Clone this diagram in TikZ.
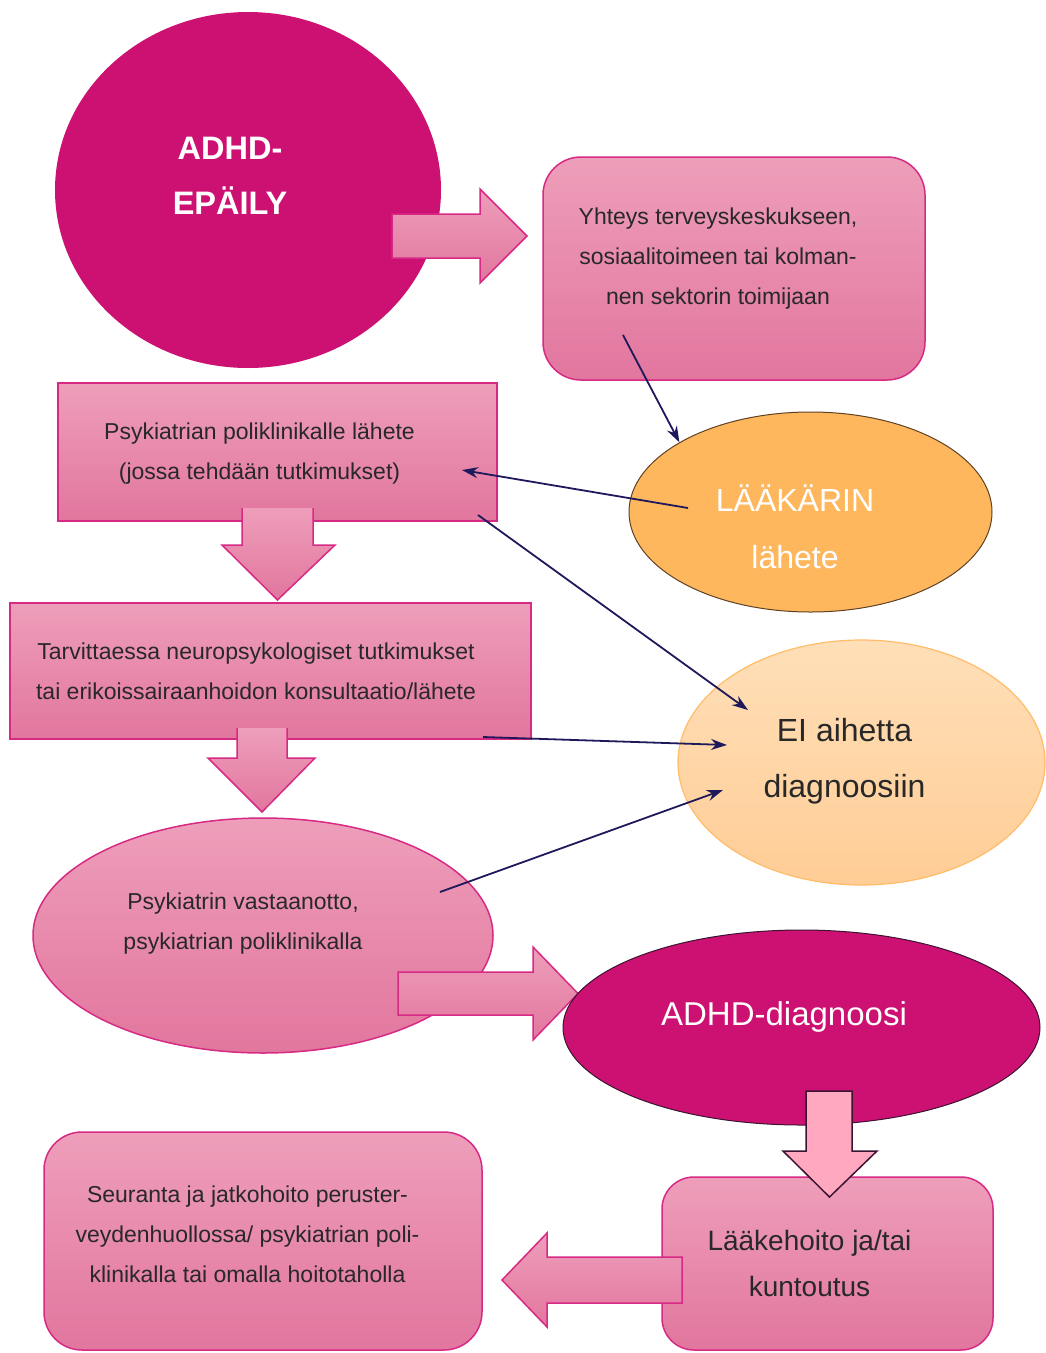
\documentclass[tikz,border=0pt]{standalone}
\usepackage{fontspec}
\setmainfont{Liberation Sans}
\usetikzlibrary{positioning,
        shapes.geometric,
        arrows.meta}
\usepackage{xcolor}

\definecolor{pinktop}{RGB}{238,158,186}
\definecolor{pinkbot}{RGB}{226,118,158}
\definecolor{pinkline}{RGB}{214,42,132}
\definecolor{adhdmag}{RGB}{205,17,114}
\definecolor{darkline}{RGB}{60,20,50}
\definecolor{orangefill}{RGB}{255,183,94}
\definecolor{brownline}{RGB}{95,65,35}
\definecolor{ltorangetop}{RGB}{255,223,184}
\definecolor{ltorangebot}{RGB}{255,205,150}
\definecolor{ltorangeline}{RGB}{255,188,105}
\definecolor{ltpink}{RGB}{255,168,192}
\definecolor{navy}{RGB}{30,25,90}
\definecolor{txtgray}{RGB}{40,40,40}

\begin{document}
\begin{tikzpicture}[x=1pt,y=-1pt,
        pinkbox/.style={rectangle,draw=pinkline,line width=1.5pt,top color=pinktop,bottom color=pinkbot,inner sep=0pt},
        roundbox/.style={pinkbox,rounded corners=38pt},
        oval/.style={ellipse,inner sep=0pt},
        small/.style={align=center,text=txtgray,font=\fontsize{23}{40}\selectfont},
        big/.style={align=center,font=\fontsize{32}{57}\selectfont},
        blockarrow/.style={draw=pinkline,line width=1.5pt,top color=pinktop,bottom color=pinkbot,line join=miter},
        link/.style={draw=navy,line width=1.8pt,-{Stealth[length=16pt,width=11pt]}}]
    \useasboundingbox (0,0) rectangle (1046,1353);

    \node [oval,fill=adhdmag,minimum width=386pt,minimum height=356pt,
        label={[big,text=white,font=\fontsize{32.5}{55}\selectfont\bfseries,xshift=-18pt,yshift=14pt]center:{ADHD-\\EPÄILY}}] (epaily) at (248,190) {};
    \path[blockarrow] (392,214) -- (480,214) -- (480,189) -- (527,236) -- (480,283) -- (480,258) -- (392,258) -- cycle;

    \node [roundbox,minimum width=382pt,minimum height=223pt,
        label={[small,xshift=-16pt,yshift=10pt]center:{Yhteys terveyskeskukseen,\\sosiaalitoimeen tai kolman-\\nen sektorin toimijaan}}] (yhteys) at (734,268.5) {};

    \node [pinkbox,minimum width=439pt,minimum height=138pt,
        label={[small,xshift=-18pt,yshift=-1.5pt]center:{Psykiatrian poliklinikalle lähete\\(jossa tehdään tutkimukset)}}] (psykpoli) at (277.5,452) {};
    \path[blockarrow] (242,508) -- (242,545) -- (222,545) -- (277.5,600) -- (335,545) -- (313,545) -- (313,508);

    \node [pinkbox,minimum width=521pt,minimum height=136pt,
        label={[small,xshift=-14.5pt]center:{Tarvittaessa neuropsykologiset tutkimukset\\tai erikoissairaanhoidon konsultaatio/lähete}}] (tarvitt) at (270.5,671) {};
    \path[blockarrow] (237,728) -- (237,758) -- (208,758) -- (262,812) -- (315,758) -- (287,758) -- (287,728);

    \node [pinkbox,oval,minimum width=460pt,minimum height=235pt,
        label={[small,xshift=-20pt,yshift=12pt]center:{Psykiatrin vastaanotto,\\psykiatrian poliklinikalla}}] (vastaanotto) at (263,935.5) {};
    \path[blockarrow] (398,972) -- (533,972) -- (533,947) -- (578,993.5) -- (533,1040) -- (533,1015) -- (398,1015) -- cycle;

    \node [oval,fill=adhdmag,draw=darkline,line width=1pt,minimum width=477pt,minimum height=195pt,
        label={[big,text=white,font=\fontsize{33}{57}\selectfont,xshift=-17.5pt,yshift=10.5pt]center:{ADHD-diagnoosi}}] (diagnoosi) at (801.5,1027.5) {};

    \node [roundbox,rounded corners=32pt,minimum width=331pt,minimum height=173pt,
        label={[big,text=txtgray,font=\fontsize{28}{46}\selectfont,xshift=-18pt]center:{Lääkehoito ja/tai\\kuntoutus}}] (laake) at (827.5,1263.5) {};
    \path[draw=darkline,line width=1.5pt,fill=ltpink,line join=miter] (806,1091) -- (852,1091) -- (852,1151) -- (877,1151) -- (829.5,1197) -- (783,1151) -- (806,1151) -- cycle;
    \path[blockarrow] (682,1257) -- (547,1257) -- (547,1233) -- (502,1280) -- (547,1327) -- (547,1303) -- (682,1303) -- cycle;

    \node [roundbox,minimum width=438pt,minimum height=218pt,
        label={[small,xshift=-15.5pt,yshift=6.5pt]center:{Seuranta ja jatkohoito peruster-\\veydenhuollossa/ psykiatrian poli-\\klinikalla tai omalla hoitotaholla}}] (seuranta) at (263,1241) {};

    \node [oval,fill=orangefill,draw=brownline,line width=1pt,minimum width=363pt,minimum height=200pt,
        label={[big,text=white,xshift=-15.5pt,yshift=-14.5pt]center:{LÄÄKÄRIN\\lähete}}] (laakari) at (810.5,512) {};
    \node [oval,top color=ltorangetop,bottom color=ltorangebot,draw=ltorangeline,line width=1.2pt,minimum width=367pt,minimum height=245pt,
        label={[big,text=txtgray,font=\fontsize{32}{56}\selectfont,xshift=-17pt,yshift=1.5pt]center:{EI aihetta\\diagnoosiin}}] (eiaihetta) at (861.5,762.5) {};

    % loose ends of the thin arrows
    \coordinate (yhteysout) at (623,335);
    \coordinate (laakariout) at (688,508);
    \coordinate (psykin) at (462,470);
    \coordinate (psykout) at (478,515);
    \coordinate (eiin1) at (748,710);
    \coordinate (tarvout) at (483,737);
    \coordinate (eiin2) at (727,745);
    \coordinate (vastout) at (440,892);
    \coordinate (eiin3) at (723,790);

    \draw[link] (yhteysout) -- (laakari.152);
    \draw[link] (laakariout) -- (psykin);
    \draw[link] (psykout) -- (eiin1);
    \draw[link] (tarvout) -- (eiin2);
    \draw[link] (vastout) -- (eiin3);
\end{tikzpicture}
\end{document}
